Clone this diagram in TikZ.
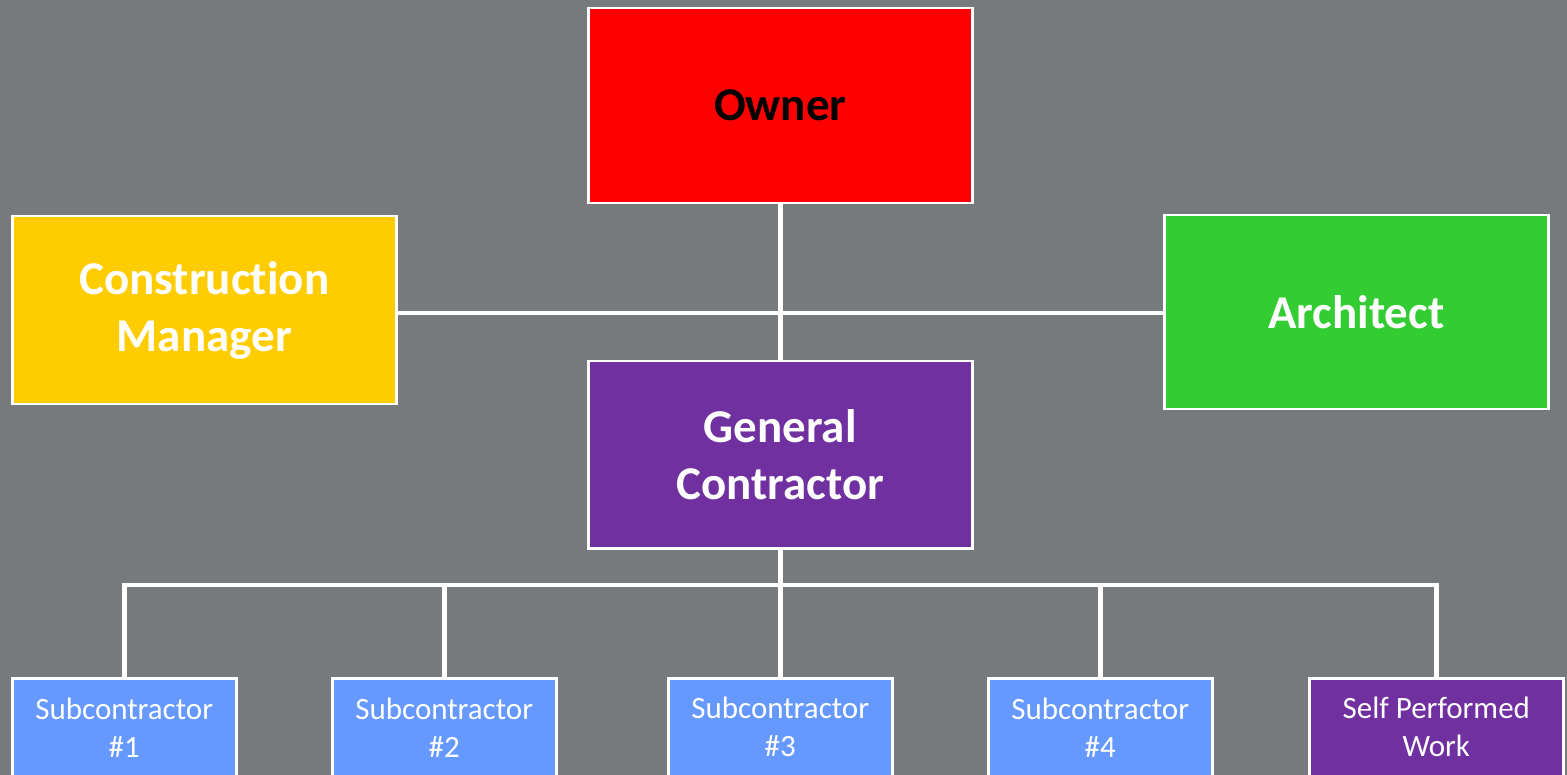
\documentclass[tikz,border=0pt]{standalone}
\usepackage{fontspec}
\setmainfont{Carlito}[Ligatures={NoCommon,NoRequired,NoContextual}, Contextuals=NoAlternate]
\definecolor{bgGray}{HTML}{777A7D}
\definecolor{ownerRed}{HTML}{FF0000}
\definecolor{cmYellow}{HTML}{FFCC00}
\definecolor{archGreen}{HTML}{33CC33}
\definecolor{gcPurple}{HTML}{7030A0}
\definecolor{subBlue}{HTML}{6699FF}
\tikzset{
  box/.style={draw=white, line width=2.5pt, inner sep=0pt, align=center, anchor=north west},
  bigbox/.style={box, minimum width=384pt, font=\fontsize{47}{57}\selectfont\bfseries, text=white},
  subbox/.style={box, minimum width=224pt, minimum height=98pt, font=\fontsize{31}{38}\selectfont, text=white},
  link/.style={draw=white, line width=4.5pt}
}
\begin{document}
\begin{tikzpicture}[x=1pt, y=-1pt]
  \fill[bgGray] (0,0) rectangle (1567,775);
  \useasboundingbox (0,0) rectangle (1567,775);

  % upper tier
  \node[bigbox, fill=ownerRed, text=black, minimum height=195pt] (owner) at (587,7) {Owner};
  \node[bigbox, fill=cmYellow, minimum height=188pt] (cm) at (11,215) {Construction\\Manager};
  \node[bigbox, fill=archGreen, minimum height=194pt] (arch) at (1163,214) {Architect};
  \node[bigbox, fill=gcPurple, minimum height=187pt] (gc) at (587,360) {General\\Contractor};

  % trade tier
  \node[subbox, fill=subBlue] (s1) at (11,677) {Subcontractor\\\#1};
  \node[subbox, fill=subBlue] (s2) at (331,677) {Subcontractor\\\#2};
  \node[subbox, fill=subBlue] (s3) at (667,677) {Subcontractor\\\#3};
  \node[subbox, fill=subBlue] (s4) at (987,677) {Subcontractor\\\#4};
  \node[subbox, fill=gcPurple, minimum width=254pt] (spw) at (1308,677) {Self Performed\\Work};

  % connectors
  \coordinate (cross) at (780,313);
  \coordinate (bus) at (gc.south |- 0,585);
  \path[link] (owner.south) -- (gc.north);
  \path[link] (cm.east |- cross) -- (arch.west |- cross);
  \path[link] (gc.south) -- (bus);
  \path[link] (bus) -| (s1.north);
  \path[link] (bus) -| (s2.north);
  \path[link] (bus) -| (s3.north);
  \path[link] (bus) -| (s4.north);
  \path[link] (bus) -| (spw.north);
\end{tikzpicture}
\end{document}
